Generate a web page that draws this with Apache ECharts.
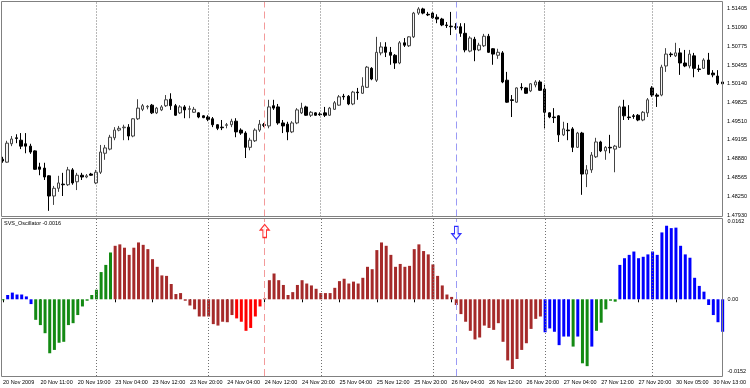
<!DOCTYPE html>
<html><head><meta charset="utf-8">
<script src="https://cdn.jsdelivr.net/npm/echarts/dist/echarts.min.js"></script>
<style>html,body{margin:0;padding:0;background:#fff}#c{width:750px;height:388px}</style>
</head><body><div id="c"></div>
<script>
// trading days: [label, first hour, last hour]
const days = [['20 Nov',3,22],['23 Nov',0,23],['24 Nov',0,23],['25 Nov',0,23],['26 Nov',0,23],['27 Nov',0,22],['30 Nov',0,15]];
const categories = [];
days.forEach(d => { for (let h = d[1]; h <= d[2]; h++) categories.push(d[0] + ' ' + (h < 10 ? '0' : '') + h + ':00'); });

const tickLabels = ['20 Nov 2009','20 Nov 11:00','20 Nov 19:00','23 Nov 04:00','23 Nov 12:00','23 Nov 20:00','24 Nov 04:00','24 Nov 12:00','24 Nov 20:00','25 Nov 04:00','25 Nov 12:00','25 Nov 20:00','26 Nov 04:00','26 Nov 12:00','26 Nov 20:00','27 Nov 04:00','27 Nov 12:00','27 Nov 20:00','30 Nov 05:00','30 Nov 13:00'];
const priceTicks = [1.47930,1.48250,1.48565,1.48880,1.49195,1.49510,1.49825,1.50140,1.50455,1.50775,1.51090,1.51405];
const oscTicks = [-0.0152, 0, 0.0162];
const dayStarts = ['23 Nov 00:00','24 Nov 00:00','25 Nov 00:00','26 Nov 00:00','27 Nov 00:00','30 Nov 00:00'];

const open = [1.4887,1.4882,1.4913,1.4923,1.4919,1.4913,1.4909,1.4901,1.4874,1.4872,
1.4859,1.4825,1.4838,1.4845,1.4844,1.4869,1.4849,1.4860,1.4857,1.4862,
1.4847,1.4865,1.4897,1.4904,1.4923,1.4936,1.4940,1.4941,1.4926,1.4955,
1.4971,1.4975,1.4978,1.4965,1.4970,1.4977,1.4988,1.4977,1.4965,1.4975,
1.4971,1.4966,1.4965,1.4960,1.4958,1.4955,1.4945,1.4941,1.4944,1.4945,
1.4951,1.4936,1.4931,1.4907,1.4918,1.4936,1.4945,1.4943,1.4977,1.4975,
1.4948,1.4946,1.4933,1.4948,1.4965,1.4975,1.4961,1.4965,1.4963,1.4965,
1.4961,1.4971,1.4978,1.4993,1.4993,1.4980,1.5000,1.4998,1.5008,1.5040,
1.5020,1.5066,1.5076,1.5067,1.5062,1.5049,1.5083,1.5078,1.5093,1.5133,
1.5140,1.5131,1.5133,1.5126,1.5123,1.5113,1.5111,1.5110,1.5110,1.5099,
1.5069,1.5089,1.5071,1.5078,1.5094,1.5073,1.5062,1.5066,1.5020,1.4987,
1.4983,1.5008,1.5007,1.5002,1.5012,1.5017,1.5005,1.4965,1.4958,1.4960,
1.4928,1.4936,1.4938,1.4907,1.4931,1.4862,1.4869,1.4891,1.4916,1.4901,
1.4907,1.4904,1.4907,1.4975,1.4958,1.4960,1.4961,1.4953,1.4965,1.5007,
1.4995,1.4995,1.5044,1.5064,1.5061,1.5066,1.5049,1.5044,1.5061,1.5039,
1.5040,1.5054,1.5032,1.5027,1.5017];
const close = [1.4884,1.4914,1.4921,1.4922,1.4909,1.4909,1.4899,1.4870,1.4870,1.4857,
1.4825,1.4838,1.4847,1.4844,1.4869,1.4847,1.4860,1.4857,1.4859,1.4860,
1.4865,1.4899,1.4906,1.4924,1.4936,1.4939,1.4941,1.4926,1.4955,1.4973,
1.4977,1.4976,1.4965,1.4973,1.4975,1.4987,1.4977,1.4961,1.4975,1.4970,
1.4972,1.4971,1.4958,1.4957,1.4954,1.4945,1.4939,1.4940,1.4945,1.4951,
1.4933,1.4931,1.4907,1.4919,1.4936,1.4946,1.4944,1.4975,1.4973,1.4948,
1.4943,1.4933,1.4948,1.4970,1.4973,1.4961,1.4966,1.4961,1.4962,1.4961,
1.4973,1.4982,1.4992,1.4992,1.4980,1.5000,1.4999,1.5010,1.5042,1.5022,
1.5067,1.5076,1.5067,1.5062,1.5049,1.5083,1.5079,1.5093,1.5133,1.5140,
1.5133,1.5130,1.5125,1.5123,1.5113,1.5112,1.5110,1.5109,1.5099,1.5071,
1.5091,1.5071,1.5079,1.5094,1.5067,1.5064,1.5067,1.5017,1.4983,1.4986,
1.5007,1.5007,1.4998,1.5014,1.5017,1.5003,1.4966,1.4958,1.4957,1.4928,
1.4938,1.4935,1.4907,1.4931,1.4862,1.4869,1.4894,1.4916,1.4901,1.4907,
1.4906,1.4909,1.4975,1.4960,1.4957,1.4959,1.4953,1.4966,1.4987,1.4995,
1.4993,1.5042,1.5064,1.5063,1.5066,1.5049,1.5044,1.5064,1.5040,1.5038,
1.5054,1.5030,1.5029,1.5015,1.5014];
const low = [1.4881,1.4881,1.4909,1.4914,1.4904,1.4897,1.4896,1.4869,1.4860,1.4852,
1.4800,1.4810,1.4832,1.4825,1.4842,1.4844,1.4835,1.4852,1.4855,1.4859,
1.4845,1.4862,1.4886,1.4902,1.4919,1.4934,1.4919,1.4919,1.4924,1.4953,
1.4968,1.4971,1.4963,1.4963,1.4968,1.4975,1.4970,1.4960,1.4963,1.4956,
1.4956,1.4965,1.4956,1.4956,1.4951,1.4941,1.4936,1.4936,1.4939,1.4941,
1.4924,1.4928,1.4889,1.4902,1.4916,1.4933,1.4941,1.4939,1.4970,1.4945,
1.4931,1.4919,1.4931,1.4946,1.4963,1.4960,1.4958,1.4960,1.4960,1.4958,
1.4960,1.4970,1.4977,1.4987,1.4978,1.4978,1.4987,1.4997,1.5007,1.5020,
1.5017,1.5062,1.5059,1.5046,1.5039,1.5047,1.5076,1.5076,1.5091,1.5130,
1.5131,1.5128,1.5123,1.5116,1.5111,1.5108,1.5096,1.5105,1.5093,1.5067,
1.5067,1.5052,1.5069,1.5076,1.5066,1.5046,1.5056,1.5015,1.4982,1.4958,
1.4982,1.5003,1.4997,1.5000,1.5008,1.5002,1.4939,1.4956,1.4948,1.4916,
1.4926,1.4919,1.4899,1.4906,1.4827,1.4840,1.4864,1.4889,1.4899,1.4886,
1.4897,1.4865,1.4906,1.4953,1.4953,1.4955,1.4951,1.4951,1.4958,1.4992,
1.4975,1.4993,1.5034,1.5059,1.5059,1.5029,1.5042,1.5040,1.5025,1.5034,
1.5039,1.5029,1.5025,1.5012,1.5010];
const high = [1.4891,1.4918,1.4926,1.4929,1.4931,1.4931,1.4913,1.4902,1.4881,1.4881,
1.4860,1.4842,1.4859,1.4864,1.4874,1.4872,1.4864,1.4864,1.4862,1.4864,
1.4869,1.4911,1.4911,1.4928,1.4941,1.4943,1.4945,1.4946,1.4956,1.4988,
1.4980,1.4978,1.4980,1.4975,1.4978,1.4995,1.4998,1.4980,1.4978,1.4978,
1.4977,1.4975,1.4966,1.4961,1.4961,1.4958,1.4946,1.4953,1.4948,1.4955,
1.4956,1.4939,1.4934,1.4923,1.4939,1.4953,1.4948,1.4987,1.4987,1.4980,
1.4953,1.4950,1.4951,1.4973,1.4982,1.4977,1.4968,1.4966,1.4966,1.4975,
1.4975,1.4985,1.4995,1.4997,1.4995,1.5002,1.5007,1.5025,1.5044,1.5042,
1.5093,1.5084,1.5084,1.5076,1.5064,1.5086,1.5091,1.5094,1.5135,1.5143,
1.5142,1.5135,1.5135,1.5131,1.5125,1.5118,1.5135,1.5116,1.5116,1.5116,
1.5094,1.5093,1.5083,1.5098,1.5098,1.5074,1.5073,1.5069,1.5034,1.4995,
1.5008,1.5015,1.5008,1.5015,1.5020,1.5020,1.5012,1.4966,1.4973,1.4961,
1.4950,1.4948,1.4941,1.4933,1.4933,1.4877,1.4899,1.4923,1.4918,1.4909,
1.4928,1.4911,1.4977,1.4987,1.4978,1.4963,1.4963,1.4968,1.4990,1.5010,
1.4998,1.5046,1.5074,1.5067,1.5083,1.5074,1.5071,1.5071,1.5066,1.5046,
1.5057,1.5066,1.5037,1.5037,1.5020];

const osc = [-0.0002,0.0009,0.0014,0.0010,0.0010,0.0006,-0.0010,-0.0043,-0.0054,-0.0071,
-0.0113,-0.0106,-0.0091,-0.0089,-0.0054,-0.0050,-0.0033,-0.0015,-0.0003,0.0009,
0.0020,0.0057,0.0072,0.0098,0.0112,0.0115,0.0108,0.0093,0.0108,0.0119,
0.0114,0.0105,0.0084,0.0068,0.0050,0.0049,0.0032,0.0011,0.0013,-0.0003,
-0.0013,-0.0021,-0.0036,-0.0036,-0.0036,-0.0052,-0.0055,-0.0047,-0.0048,-0.0033,
-0.0040,-0.0047,-0.0066,-0.0060,-0.0036,-0.0015,0.0002,0.0040,0.0054,0.0040,
0.0030,0.0009,0.0015,0.0030,0.0040,0.0033,0.0029,0.0022,0.0013,0.0013,
0.0013,0.0024,0.0038,0.0043,0.0033,0.0037,0.0033,0.0045,0.0068,0.0063,
0.0103,0.0119,0.0112,0.0093,0.0068,0.0074,0.0068,0.0070,0.0105,0.0115,
0.0101,0.0094,0.0073,0.0049,0.0029,0.0010,0.0005,-0.0012,-0.0031,-0.0047,
-0.0066,-0.0084,-0.0080,-0.0055,-0.0060,-0.0064,-0.0050,-0.0089,-0.0128,-0.0146,
-0.0125,-0.0106,-0.0092,-0.0062,-0.0041,-0.0036,-0.0069,-0.0061,-0.0068,-0.0096,
-0.0078,-0.0078,-0.0099,-0.0078,-0.0134,-0.0140,-0.0099,-0.0066,-0.0049,-0.0021,
-0.0003,-0.0005,0.0072,0.0086,0.0093,0.0100,0.0086,0.0089,0.0094,0.0100,
0.0093,0.0140,0.0154,0.0149,0.0150,0.0112,0.0094,0.0087,0.0045,0.0028,
0.0016,-0.0012,-0.0033,-0.0048,-0.0068];
// state per bar: B blue, G green, N brown, R red
const oscState = ('G'+'BBBBBB'+'GGGGGGGGGGGGGGGGG'+'NNNNNNNNNNNNNNNNNNNNNNNNNN'+'RRRRRR'+
  'NNNNNNNNNNNNNNNNNNNNNNNNNNNNNNNNNNNNNNNNNNNNNNNNNNNNNNNNNNNN'+
  'BBBBBB'+'G'+'B'+'GG'+'B'+'GGGGG'+'BBBBBBBBBBBBBBBBBBBBBBB').split('');
const palette = {B:'#0000ff', G:'#138a13', N:'#a52a2a', R:'#ff0000'};

const signalCat = ['24 Nov 12:00','26 Nov 05:00'];
const signalVal = [0.0143, 0.0139];
const signalDir = ['up','down'];

const FONT = 'Liberation Sans, Arial, sans-serif';
const upPath = 'path://M5,0 L10,6 L7,6 L7,14 L3,14 L3,6 L0,6 Z';
const downPath = 'path://M3,0 L7,0 L7,8 L10,8 L5,14 L0,8 L3,8 Z';

function vLines() {
  const arr = dayStarts.map(c => ({xAxis: c, lineStyle: {type: [1,2], color: '#707070', width: 1}}));
  arr.push({xAxis: signalCat[0], lineStyle: {type: [7,4], color: '#f39a9a', width: 1}});
  arr.push({xAxis: signalCat[1], lineStyle: {type: [7,4], color: '#9a9af5', width: 1}});
  return {silent: true, symbol: ['none','none'], label: {show: false}, animation: false, data: arr};
}

const chart = echarts.init(document.getElementById('c'), null, {renderer: 'canvas'});
chart.setOption({
  animation: false,
  backgroundColor: '#fff',
  title: {text: 'SVS_Oscillator -0.0016', left: 4, top: 220, padding: 0,
    textStyle: {fontSize: 5.5, fontWeight: 'normal', color: '#000', fontFamily: FONT}},
  grid: [
    {left: -1, right: 25, top: 2, height: 214.5},
    {left: -1, right: 25, top: 219, height: 157}
  ],
  xAxis: [
    {type: 'category', gridIndex: 0, data: categories, boundaryGap: true,
     axisLine: {show: false}, axisTick: {show: false}, axisLabel: {show: false}, splitLine: {show: false}},
    {type: 'category', gridIndex: 1, data: categories, boundaryGap: true,
     axisLine: {show: false},
     axisTick: {show: true, interval: 7, alignWithLabel: true, length: 3, lineStyle: {color: '#000'}},
     axisLabel: {show: true, interval: 7, align: 'left', margin: 3, fontSize: 5.5, color: '#000', fontFamily: FONT,
       formatter: (v, i) => tickLabels[Math.round(i / 8)] || ''},
     splitLine: {show: false}}
  ],
  yAxis: [
    {type: 'value', gridIndex: 0, position: 'right', offset: -2.5, min: 1.47905, max: 1.51517,
     axisLine: {show: false}, axisTick: {show: false}, splitLine: {show: false},
     axisLabel: {show: true, customValues: priceTicks, margin: 5, fontSize: 5.5, color: '#000', fontFamily: FONT,
       formatter: v => v.toFixed(5)}},
    {type: 'value', gridIndex: 1, position: 'right', offset: -2.5, min: -0.01606, max: 0.01681,
     axisLine: {show: false}, axisTick: {show: false}, splitLine: {show: false},
     axisLabel: {show: true, customValues: oscTicks, margin: 5, fontSize: 5.5, color: '#000', fontFamily: FONT,
       formatter: v => v === 0 ? '0.00' : v.toFixed(4)}}
  ],
  graphic: [
    {type: 'rect', silent: true, z: 100, shape: {x: 1.5, y: 1.5, width: 721, height: 215}, style: {fill: 'transparent', stroke: '#808080', lineWidth: 1}},
    {type: 'rect', silent: true, z: 100, shape: {x: 1.5, y: 218.5, width: 721, height: 158}, style: {fill: 'transparent', stroke: '#808080', lineWidth: 1}}
  ],
  series: [
    {type: 'candlestick', xAxisIndex: 0, yAxisIndex: 0, barWidth: 3,
     data: open.map((o, i) => [o, close[i], low[i], high[i]]),
     itemStyle: {color: '#f4f4f4', color0: '#000000', borderColor: '#444', borderColor0: '#000', borderWidth: 1},
     emphasis: {disabled: true},
     markLine: vLines()},
    {type: 'bar', xAxisIndex: 1, yAxisIndex: 1, barWidth: 3,
     data: osc.map((v, i) => ({value: v, itemStyle: {color: palette[oscState[i]]}})),
     emphasis: {disabled: true},
     markLine: vLines()},
    {type: 'scatter', xAxisIndex: 1, yAxisIndex: 1, z: 5,
     data: signalCat.map((c, i) => ({value: [c, signalVal[i]], symbol: signalDir[i] === 'up' ? upPath : downPath,
       itemStyle: {color: '#fff', borderColor: signalDir[i] === 'up' ? '#ff0000' : '#0000ff', borderWidth: 1.2}})),
     symbolSize: [9, 13], emphasis: {disabled: true}}
  ]
});
</script></body></html>
